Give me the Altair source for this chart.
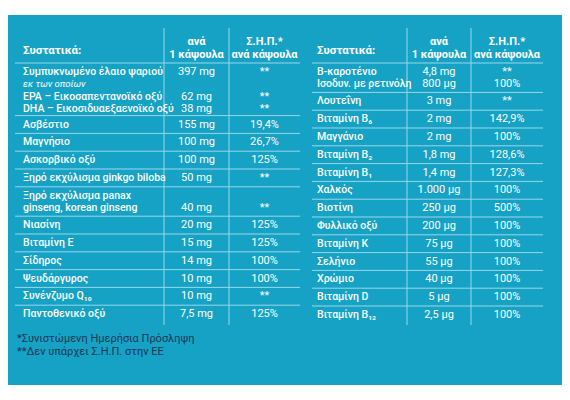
import altair as alt
import pandas as pd

# ---------------- data ----------------
header_name = "Συστατικά:"
header_amount = ["ανά", "1 κάψουλα"]
header_rdi = ["Σ.Η.Π.*", "ανά κάψουλα"]

left_names = [
    "Συμπυκνωμένο έλαιο ψαριού\nεκ των οποίων\nEPA – Εικοσαπεντανοϊκό οξύ\nDHA – Εικοσιδυαεξαενοϊκό οξύ",
    "Ασβέστιο", "Μαγνήσιο", "Ασκορβικό οξύ", "Ξηρό εκχύλισμα ginkgo biloba",
    "Ξηρό εκχύλισμα panax\nginseng, korean ginseng",
    "Νιασίνη", "Βιταμίνη Ε", "Σίδηρος", "Ψευδάργυρος", "Συνένζυμο Q₁₀", "Παντοθενικό οξύ",
]
left_amounts = ["397 mg\n\n62 mg\n38 mg", "155 mg", "100 mg", "100 mg", "50 mg", "\n40 mg",
                "20 mg", "15 mg", "14 mg", "10 mg", "10 mg", "7,5 mg"]
left_rdi = ["**\n\n**\n**", "19,4%", "26,7%", "125%", "**", "\n**",
            "125%", "125%", "100%", "100%", "**", "125%"]

right_names = [
    "Β-καροτένιο\nΙσοδυν. με ρετινόλη", "Λουτεΐνη", "Βιταμίνη Β₆", "Μαγγάνιο", "Βιταμίνη Β₂",
    "Βιταμίνη Β₁", "Χαλκός", "Βιοτίνη", "Φυλλικό οξύ", "Βιταμίνη Κ", "Σελήνιο", "Χρώμιο",
    "Βιταμίνη D", "Βιταμίνη Β₁₂",
]
right_amounts = ["4,8 mg\n800 μg", "3 mg", "2 mg", "2 mg", "1,8 mg", "1,4 mg", "1.000 μg",
                 "250 μg", "200 μg", "75 μg", "55 μg", "40 μg", "5 μg", "2,5 μg"]
right_rdi = ["**\n100%", "**", "142,9%", "100%", "128,6%", "127,3%", "100%", "500%",
             "100%", "100%", "100%", "100%", "100%", "100%"]

footnotes = ["*Συνιστώμενη Ημερήσια Πρόσληψη", "**Δεν υπάρχει Σ.Η.Π. στην ΕΕ"]
italic_lines = ["εκ των οποίων"]

# ---------------- layout / style ----------------
BG = "#16a2c5"
LINEC = "#98d8ea"
FONT = "Roboto"
HEADER_BOTTOM = 63.0
ROW = 17.8          # height of a one-line row
LINE = 12.5         # spacing of lines inside a multi-line row
EXTRA = 11.6        # extra row height per extra line
TABLE_BOTTOM = 325.0

tables = [
    dict(names=left_names, amounts=left_amounts, rdi=left_rdi,
         x0=15, x1=300, xn=23, v1=164, v2=229, xa=196.5, xr=264.5),
    dict(names=right_names, amounts=right_amounts, rdi=right_rdi,
         x0=312, x1=543, xn=317, v1=407, v2=471, xa=439, xr=507),
]

name_rows, italic_rows, value_rows, head_rows, head_val_rows = [], [], [], [], []
hrules, vrules = [], []
for t in tables:
    head_rows.append(dict(x=t["xn"], y=50.5, text=header_name))
    for j, (a, r) in enumerate(zip(header_amount, header_rdi)):
        head_val_rows.append(dict(x=t["xa"], y=42 + 12.5 * j, text=a))
        head_val_rows.append(dict(x=t["xr"], y=42 + 12.5 * j, text=r))
    vrules.append(dict(x=t["v1"], y=28, y2=TABLE_BOTTOM))
    vrules.append(dict(x=t["v2"], y=28, y2=TABLE_BOTTOM))
    y = HEADER_BOTTOM
    for n, a, r in zip(t["names"], t["amounts"], t["rdi"]):
        nl, al, rl = n.split("\n"), a.split("\n"), r.split("\n")
        k = max(len(nl), len(al), len(rl))
        hrules.append(dict(x=t["x0"], x2=t["x1"], y=y))
        for j in range(k):
            cy = y + ROW / 2 + LINE * j
            if j < len(nl) and nl[j]:
                target = italic_rows if nl[j] in italic_lines else name_rows
                target.append(dict(x=t["xn"], y=cy, text=nl[j]))
            if j < len(al) and al[j]:
                value_rows.append(dict(x=t["xa"], y=cy, text=al[j]))
            if j < len(rl) and rl[j]:
                value_rows.append(dict(x=t["xr"], y=cy, text=rl[j]))
        y += ROW + EXTRA * (k - 1)

foot_rows = [dict(x=17, y=339 + 12.5 * i, text=f) for i, f in enumerate(footnotes)]

xs = alt.Scale(domain=[8, 562], nice=False, zero=False)
ys = alt.Scale(domain=[8, 392], nice=False, zero=False, reverse=True)
X = lambda f="x": alt.X(f"{f}:Q", scale=xs, axis=None)
Y = lambda f="y": alt.Y(f"{f}:Q", scale=ys, axis=None)

bg = alt.Chart(pd.DataFrame({"k": [0]})).mark_rect(color=BG).encode(
    x=alt.value(0), x2=alt.value(554), y=alt.value(7), y2=alt.value(377))

h = alt.Chart(pd.DataFrame(hrules)).mark_rule(color=LINEC, strokeWidth=1).encode(
    x=X(), x2="x2:Q", y=Y())
v = alt.Chart(pd.DataFrame(vrules)).mark_rule(color=LINEC, strokeWidth=1).encode(
    x=X(), y=Y(), y2="y2:Q")


def txt(rows, **kw):
    return alt.Chart(pd.DataFrame(rows)).mark_text(font=FONT, baseline="middle", **kw).encode(
        x=X(), y=Y(), text="text:N")


layers = [
    bg, h, v,
    txt(head_rows, align="left", fontSize=11.5, fontWeight="bold", color="white"),
    txt(head_val_rows, align="center", fontSize=11, fontWeight="bold", color="white"),
    txt(name_rows, align="left", fontSize=10.5, fontWeight=500, color="white"),
    txt(italic_rows, align="left", fontSize=9.5, fontStyle="italic", color="white"),
    txt(value_rows, align="center", fontSize=11, color="white"),
    txt(foot_rows, align="left", fontSize=11, color="#1d3557"),
]

chart = alt.layer(*layers).properties(
    width=554, height=384,
    autosize=alt.AutoSizeParams(type="none"),
    padding=0,
    background="white",
).configure_view(stroke=None)

chart.save("out.html", embed_options={"renderer": "svg", "actions": False})
